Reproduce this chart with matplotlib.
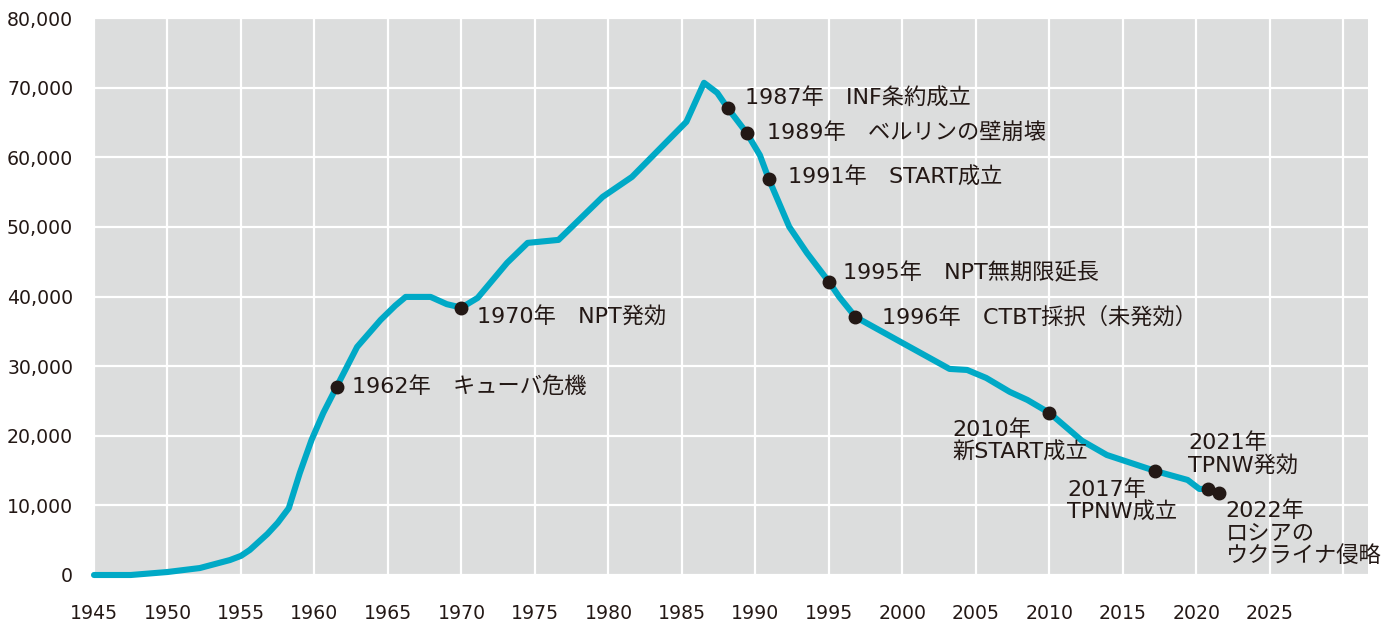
import matplotlib
matplotlib.use('Agg')
import matplotlib.pyplot as plt

# Curve (year, warheads)
years = [1945.0, 1947.5, 1950.0, 1952.2, 1954.25, 1955.0, 1955.6, 1956.8, 1957.5, 1958.25,
         1959.0, 1959.8, 1960.6, 1961.5, 1962.9, 1964.5, 1965.5, 1966.2, 1967.9,
         1969.0, 1970.0, 1971.1, 1973.1, 1974.5, 1976.6, 1979.6, 1981.6, 1985.3,
         1986.5, 1987.4, 1988.1, 1989.4, 1990.3, 1990.9, 1992.3, 1993.5, 1995.0,
         1995.7, 1996.8, 2000.0, 2003.2, 2004.4, 2005.7, 2007.3, 2008.5, 2010.0,
         2012.2, 2013.9, 2017.2, 2019.4, 2020.2, 2020.8, 2021.5]
warheads = [0, 0, 430, 1000, 2150, 2750, 3600, 5900, 7500, 9600,
            14650, 19400, 23280, 27000, 32760, 36640, 38700, 39940, 39940,
            38900, 38400, 39800, 44830, 47700, 48130, 54300, 57180, 65090,
            70690, 69250, 67100, 63500, 60300, 56900, 50000, 46260, 42100,
            39940, 37070, 33330, 29600, 29450, 28300, 26300, 25140, 23280,
            19300, 17240, 14940, 13650, 12360, 12360, 11780]

# Events marked on the curve
event_x = [1961.5, 1970.0, 1988.1, 1989.4, 1990.9, 1995.0, 1996.8,
           2010.0, 2017.2, 2020.8, 2021.5]
event_y = [27000, 38400, 67100, 63500, 56900, 42100, 37070,
           23280, 14940, 12360, 11780]
event_labels = [
    "1962年　キューバ危機",
    "1970年　NPT発効",
    "1987年　INF条約成立",
    "1989年　ベルリンの壁崩壊",
    "1991年　START成立",
    "1995年　NPT無期限延長",
    "1996年　CTBT採択（未発効）",
    "2010年\n新START成立",
    "2017年\nTPNW成立",
    "2021年\nTPNW発効",
    "2022年\nロシアの\nウクライナ侵略",
]
# label offsets in pixels (dx, dy)
offsets = [(15, 0), (16, -10), (17, 10), (20, 0), (19, 2), (14, 9), (27, 0),
           (-97, -28), (-88, -30), (-20, 35), (7, -40)]

x_ticks = list(range(1945, 2031, 5))
x_tick_labels = [str(t) if t <= 2025 else "" for t in x_ticks]
y_ticks = list(range(0, 80001, 10000))

text_color = '#231815'
line_color = '#00a9c6'
# wide latin digits from DejaVu, Japanese glyphs from Noto CJK
plt.rcParams['font.family'] = ['DejaVu Sans', 'Noto Sans CJK JP']

fig = plt.figure(figsize=(13.84, 6.25), dpi=100)
ax = fig.add_axes([94 / 1384, 50 / 625, (1368 - 94) / 1384, (575 - 18) / 625])
ax.set_facecolor('#dcdddd')

ax.plot(years, warheads, color=line_color, lw=4.4, solid_capstyle='round',
        solid_joinstyle='round', clip_on=False, zorder=3)
ax.plot(event_x, event_y, 'o', color=text_color, ms=9, zorder=4, clip_on=False)

for x, y, lab, off in zip(event_x, event_y, event_labels, offsets):
    ax.annotate(lab, xy=(x, y), xytext=off, textcoords='offset pixels',
                ha='left', va='center', fontsize=16, color=text_color,
                linespacing=1.12, zorder=5, annotation_clip=False)

ax.set_xlim(1945, 2031.67)
ax.set_ylim(0, 80000)
ax.set_xticks(x_ticks)
ax.set_xticklabels(x_tick_labels)
ax.set_yticks(y_ticks)
ax.set_yticklabels([f"{v:,}" for v in y_ticks])
ax.tick_params(axis='both', length=0, labelsize=13.6, colors=text_color)
ax.tick_params(axis='x', pad=21)
ax.tick_params(axis='y', pad=15)
ax.grid(True, color='white', lw=1.6)
ax.set_axisbelow(True)
for s in ax.spines.values():
    s.set_visible(False)

fig.savefig('out.png', dpi=100)
